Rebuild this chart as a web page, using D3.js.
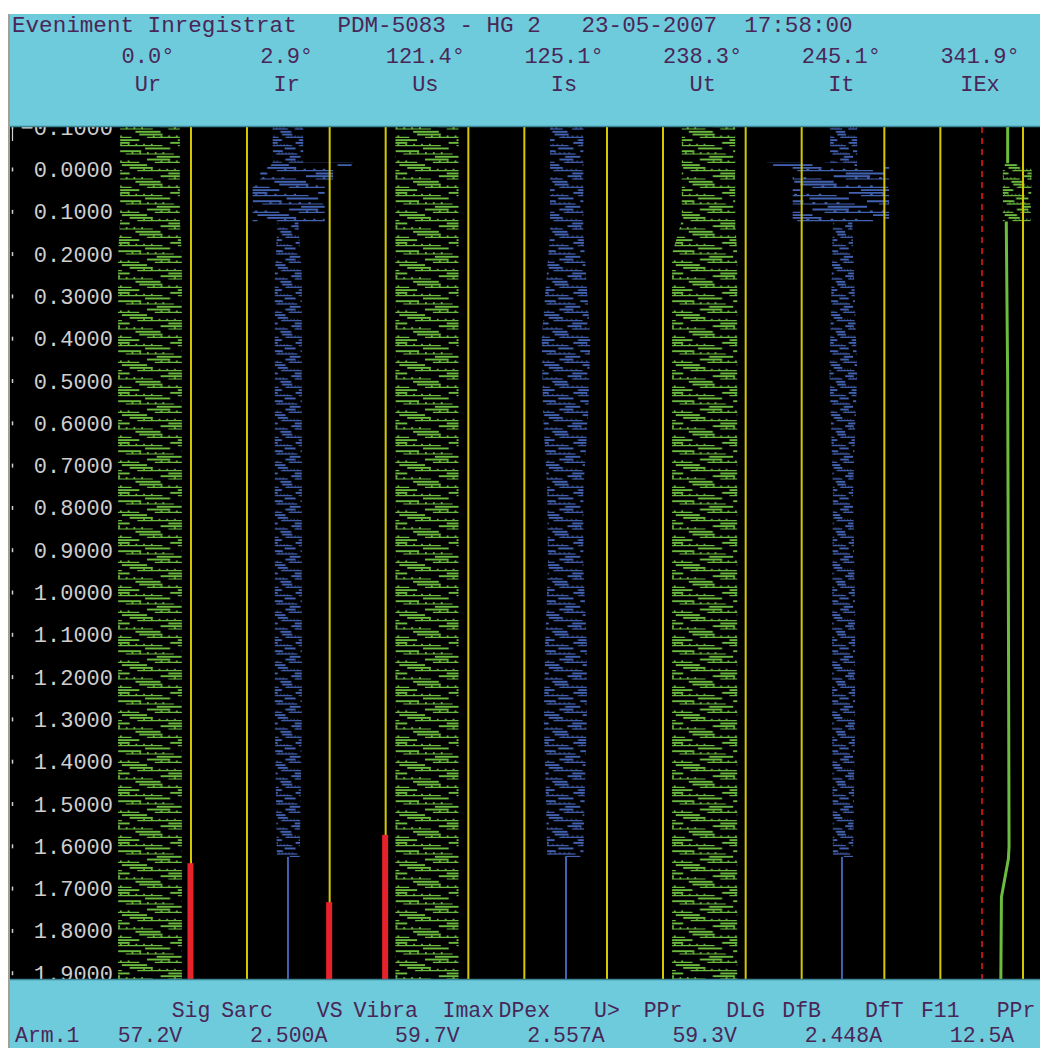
<!DOCTYPE html>
<html lang="en">
<head>
<meta charset="utf-8">
<title>Eveniment Inregistrat PDM-5083</title>
<script src="https://d3js.org/d3.v7.min.js"></script>
<style>
  body { margin: 0; background: #ffffff; }
  svg text { font-family: "Liberation Mono", "DejaVu Sans Mono", monospace; white-space: pre; }
</style>
</head>
<body>
<script>
// analog channels, phase angle and rms value of each
var channels = ["Ur", "Ir", "Us", "Is", "Ut", "It", "IEx"];
var phaseAngles = [0.0, 2.9, 121.4, 125.1, 238.3, 245.1, 341.9];
var rmsValues = ["57.2V", "2.500A", "59.7V", "2.557A", "59.3V", "2.448A", "12.5A"];

// digital channels and the time each one switched on (null = stayed off)
var digitalNames = ["Sig", "Sarc", "VS", "Vibra", "Imax", "DPex", "U>", "PPr", "DLG", "DfB", "DfT", "F11", "PPr"];
var digitalOnAt = [1.64, null, 1.732, 1.573, null, null, null, null, null, null, null, null, null];

// time axis (s)
var timeTicks = [-0.1, 0.0, 0.1, 0.2, 0.3, 0.4, 0.5, 0.6, 0.7, 0.8, 0.9, 1.0,
                 1.1, 1.2, 1.3, 1.4, 1.5, 1.6, 1.7, 1.8, 1.9];

// waveform envelopes: [time s, min %, max %] of channel full scale
var urEnv = [[-0.12, -43, 43], [0.12, -43, 43], [0.2, -46, 46], [1.95, -46, 46]];
var irEnv = [[-0.12, -23, 21], [-0.016, -23, 21], [0.126, -16, 14], [0.25, -20, 19], [1.3, -20, 19], [1.625, -17, 16]];
var irBurst = [[-0.016, -24, 93], [-0.008, -26, 90], [-0.006, -41, 64], [0.035, -41, 64], [0.037, -52, 52], [0.124, -52, 52]];
var irTail = [[1.625, -1], [1.95, -1]];
var usEnv = [[-0.12, -46, 45], [1.95, -46, 45]];
var isEnv = [[-0.12, -23, 25], [0.15, -23, 25], [0.4, -35, 35], [0.58, -33, 32], [0.76, -27, 25], [0.94, -26, 25],
             [1.12, -30, 30], [1.3, -32, 30], [1.48, -29, 27], [1.625, -27, 25]];
var isTail = [[1.625, 0], [1.95, 0]];
var utEnv = [[-0.12, -33, 44], [0.12, -33, 44], [0.2, -47, 47], [1.95, -47, 47]];
var itEnv = [[-0.12, -19, 20], [-0.016, -19, 20], [0.126, -15, 13], [0.48, -20, 20], [0.76, -15, 14],
             [1.05, -16, 17], [1.3, -16, 17], [1.625, -15, 14]];
var itBurst = [[-0.016, -110, 13], [-0.008, -108, 15], [-0.006, -73, 66], [0.124, -73, 66]];
var itTail = [[1.625, -2], [1.95, -2]];
var iexTrace = [[-0.12, 37], [-0.017, 37], [0.13, 35], [0.5, 37], [1.0, 38], [1.6, 39], [1.63, 38], [1.72, 28], [1.95, 27]];
var iexBurst = [[-0.015, 30, 72], [0.123, 30, 70]];

var W = 1040, H = 1048;
var plotTop = 127, plotBottom = 979, plotLeft = 10;
var green = "#6cbc40", blue = "#4262b2", yellow = "#d6c800", red = "#e8222a";
var cyan = "#6ecbdc", ink = "#4a2656";

var svg = d3.select("body").append("svg").attr("width", W).attr("height", H);
var defs = svg.append("defs");

var y = d3.scaleLinear().domain([0, 1.9]).range([169.5, 973.2]);
var band = d3.scaleBand().domain(channels).range([78.65, 1049.35]);
var half = band.bandwidth() / 2;
function center(ch) { return band(ch) + half; }
function amp(ch) {
	var z = center(ch) + 2;
	return d3.scaleLinear().domain([-100, 100]).range([z - half, z + half]);
}

// texture of the sampled traces (staggered horizontal strokes with small ticks)
var TW = 66, TH = 50, rowShift = [0, 30, 12, 44, 22, 54];
function makePattern(id, color, x0, sx) {
	var p = defs.append("pattern")
		.attr("id", id)
		.attr("patternUnits", "userSpaceOnUse")
		.attr("width", TW).attr("height", TH)
		.attr("patternTransform", "translate(" + x0 + ",0) scale(" + sx + ",1)");
	rowShift.forEach(function(a, r) {
		var y0 = 1.2 + r * TH / rowShift.length;
		[0, -TW].forEach(function(o) {
			var g = p.append("g").attr("transform", "translate(" + (a + o) + "," + y0 + ")")
				.attr("stroke", color).attr("fill", "none");
			g.append("line").attr("x1", 0).attr("x2", 24).attr("y1", 0).attr("y2", 0).attr("stroke-width", 1.9);
			g.append("line").attr("x1", 8).attr("x2", 58).attr("y1", 2.8).attr("y2", 2.8).attr("stroke-width", 1.2);
			[14, 22, 30, 38, 46].forEach(function(tx) {
				g.append("rect").attr("x", tx).attr("y", 0.9).attr("width", 1.8).attr("height", 2)
					.attr("fill", color).attr("stroke", "none");
			});
			g.append("line").attr("x1", 40).attr("x2", 66).attr("y1", 5.6).attr("y2", 5.6).attr("stroke-width", 1.9);
		});
	});
	return "url(#" + id + ")";
}

// plot background
svg.append("rect").attr("x", plotLeft).attr("y", plotTop)
	.attr("width", W - plotLeft).attr("height", plotBottom - plotTop).attr("fill", "#000");

defs.append("clipPath").attr("id", "plotClip").append("rect")
	.attr("x", plotLeft).attr("y", plotTop).attr("width", W - plotLeft).attr("height", plotBottom - plotTop);
var plot = svg.append("g").attr("clip-path", "url(#plotClip)");

function drawBand(ch, data, color, id, burst) {
	var xs = amp(ch);
	var wpx = d3.median(data, function(d) { return xs(d[2]) - xs(d[1]); });
	var area = d3.area()
		.y(function(d) { return y(d[0]); })
		.x0(function(d) { return xs(d[1]); })
		.x1(function(d) { return xs(d[2]); });
	if (burst) {
		plot.append("path").attr("d", area(data)).attr("fill", "#000");
	}
	var sx = burst ? Math.max(wpx / 60, 0.4) : wpx / 64;
	plot.append("path").attr("d", area(data))
		.attr("fill", makePattern(id, color, xs(d3.min(data, function(d) { return d[1]; })), sx));
}
function drawLine(ch, data, color, w) {
	var xs = amp(ch);
	plot.append("path")
		.attr("d", d3.line().y(function(d) { return y(d[0]); }).x(function(d) { return xs(d[1]); })(data))
		.attr("fill", "none").attr("stroke", color).attr("stroke-width", w);
}

drawBand("Ur", urEnv, green, "pUr");
drawBand("Ir", irEnv, blue, "pIr");
drawBand("Ir", irBurst, blue, "pIrB", true);
drawLine("Ir", irTail, blue, 2);
drawBand("Us", usEnv, green, "pUs");
drawBand("Is", isEnv, blue, "pIs");
drawLine("Is", isTail, blue, 2);
drawBand("Ut", utEnv, green, "pUt");
drawBand("It", itEnv, blue, "pIt");
drawBand("It", itBurst, blue, "pItB", true);
drawLine("It", itTail, blue, 2);
drawLine("IEx", iexTrace, green, 3);
drawBand("IEx", iexBurst, green, "pIExB", true);

// IEx zero reference
plot.append("line")
	.attr("x1", amp("IEx")(0)).attr("x2", amp("IEx")(0))
	.attr("y1", plotTop).attr("y2", plotBottom)
	.attr("stroke", "#e01818").attr("stroke-width", 1.6).attr("stroke-dasharray", "6,5");

// digital channels
function digitalX(k) { return center(channels[Math.floor(k / 2)]) + (k % 2 ? 99 : 43); }
plot.selectAll(".dig").data(digitalNames).enter().append("line")
	.attr("class", "dig")
	.attr("x1", function(d, k) { return digitalX(k); })
	.attr("x2", function(d, k) { return digitalX(k); })
	.attr("y1", plotTop).attr("y2", plotBottom)
	.attr("stroke", yellow).attr("stroke-width", 2);
plot.selectAll(".on").data(digitalOnAt.map(function(t, k) { return { t: t, k: k }; })
		.filter(function(d) { return d.t !== null; }))
	.enter().append("rect")
	.attr("x", function(d) { return digitalX(d.k) - 3.5; })
	.attr("y", function(d) { return y(d.t); })
	.attr("width", 6)
	.attr("height", function(d) { return plotBottom - y(d.t); })
	.attr("fill", red);

// time axis
var axis = plot.append("g").attr("transform", "translate(113,0)")
	.call(d3.axisLeft(y).tickValues(timeTicks).tickFormat(d3.format(".4f")).tickSize(0).tickPadding(0));
axis.select(".domain").remove();
axis.selectAll("text").attr("fill", "#cfcfcf").style("font-size", "22px");
plot.append("line").attr("x1", 12.5).attr("x2", 12.5).attr("y1", plotTop).attr("y2", plotTop + 14)
	.attr("stroke", "#d0d0d0").attr("stroke-width", 1.2);
plot.selectAll(".tk").data(timeTicks).enter().append("line")
	.attr("x1", 12.5).attr("x2", 12.5)
	.attr("y1", function(d) { return y(d) - 2; })
	.attr("y2", function(d) { return y(d) + 2; })
	.attr("stroke", "#d0d0d0").attr("stroke-width", 1.5);

// header
svg.append("rect").attr("x", 9).attr("y", 14).attr("width", W - 9).attr("height", plotTop - 14).attr("fill", cyan);
svg.append("line").attr("x1", 9).attr("x2", W).attr("y1", plotTop - 0.5).attr("y2", plotTop - 0.5)
	.attr("stroke", "#3b8594").attr("stroke-width", 1.5);
svg.append("text").attr("x", 12).attr("y", 32).attr("fill", ink).style("font-size", "22.6px")
	.text("Eveniment Inregistrat   PDM-5083 - HG 2   23-05-2007  17:58:00");
svg.selectAll(".ang").data(phaseAngles).enter().append("text")
	.attr("x", function(d, i) { return center(channels[i]); })
	.attr("y", 63).attr("text-anchor", "middle").attr("fill", ink).style("font-size", "22px")
	.text(function(d) { return d3.format(".1f")(d) + "\u00b0"; });
svg.selectAll(".chn").data(channels).enter().append("text")
	.attr("x", function(d) { return center(d); })
	.attr("y", 91).attr("text-anchor", "middle").attr("fill", ink).style("font-size", "22px")
	.text(function(d) { return d; });

// footer
svg.append("rect").attr("x", 9).attr("y", plotBottom).attr("width", W - 9).attr("height", H - plotBottom).attr("fill", cyan);
svg.append("line").attr("x1", 9).attr("x2", W).attr("y1", plotBottom + 0.5).attr("y2", plotBottom + 0.5)
	.attr("stroke", "#3b8594").attr("stroke-width", 1.5);
svg.selectAll(".dn").data(digitalNames).enter().append("text")
	.attr("x", function(d, k) { return Math.min(digitalX(k), W - 24); })
	.attr("y", 1017).attr("text-anchor", "middle").attr("fill", ink).style("font-size", "21.5px")
	.text(function(d) { return d; });
svg.append("text").attr("x", 15).attr("y", 1042).attr("fill", ink).style("font-size", "21.5px").text("Arm.1");
svg.selectAll(".rms").data(rmsValues).enter().append("text")
	.attr("x", function(d, i) { return center(channels[i]) + 2; })
	.attr("y", 1042).attr("text-anchor", "middle").attr("fill", ink).style("font-size", "21.5px")
	.text(function(d) { return d; });

// window border
svg.append("line").attr("x1", 9).attr("x2", 9).attr("y1", 14).attr("y2", H)
	.attr("stroke", "#a39e96").attr("stroke-width", 2);
</script>
</body>
</html>
